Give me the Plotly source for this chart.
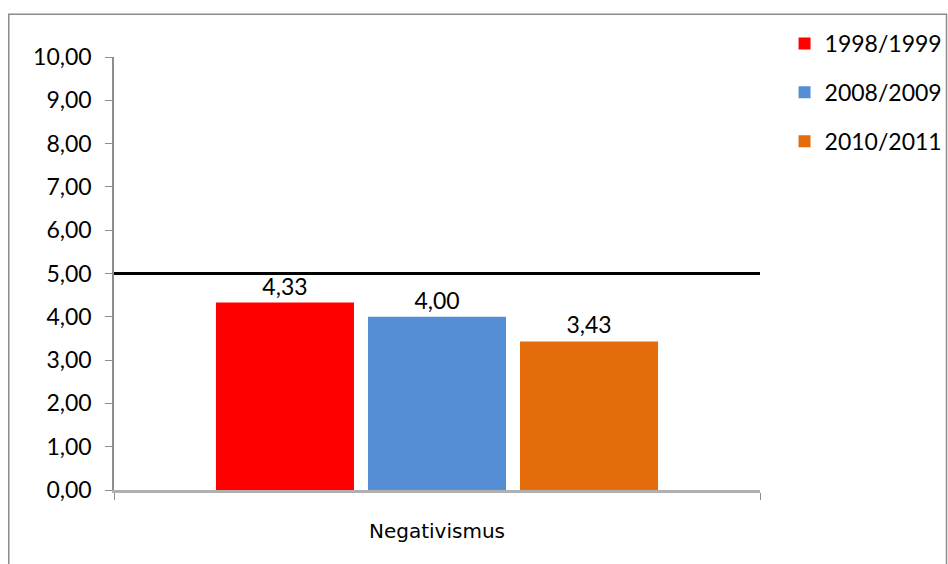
import plotly.graph_objects as go

categories = ["Negativismus"]
series_names = ["1998/1999", "2008/2009", "2010/2011"]
series_values = [[4.33], [4.00], [3.43]]
series_colors = ["#FF0000", "#558ED5", "#E46C0A"]
reference_value = 5.0
y_ticks = [0, 1, 2, 3, 4, 5, 6, 7, 8, 9, 10]

FONT = "Lato, 'Open Sans', sans-serif"

fig = go.Figure()
for i, (name, vals, col) in enumerate(zip(series_names, series_values, series_colors)):
    fig.add_trace(go.Bar(
        x=categories, y=vals, name=name, marker=dict(color=col, line=dict(width=0)),
        text=vals, texttemplate="%{y:.2f}", textposition="outside",
        textfont=dict(family=FONT, size=23, color="#000000"),
        cliponaxis=False, legendgroup=f"g{i}",
    ))

fig.add_shape(type="line", xref="paper", yref="y", x0=0, x1=1,
              y0=reference_value, y1=reference_value,
              line=dict(color="#000000", width=3))

# outer chart border
fig.add_shape(type="rect", xref="paper", yref="paper",
              x0=-0.1629, x1=1.2887, y0=-0.2, y1=1.099,
              line=dict(color="#8C8C8C", width=1.5), layer="above")

fig.update_layout(
    width=948, height=564,
    margin=dict(l=114, r=188, t=57, b=74, autoexpand=False),
    paper_bgcolor="white", plot_bgcolor="white",
    separators=",.",
    barmode="group", bargap=0.294, bargroupgap=0.092,
    showlegend=True,
    legend=dict(x=1.038, y=1.081, xanchor="left", yanchor="top",
                bgcolor="rgba(0,0,0,0)",
                font=dict(family=FONT, size=23, color="#000000"),
                tracegroupgap=16, traceorder="grouped", itemwidth=30),
    font=dict(family=FONT, color="#000000"),
)
fig.update_yaxes(range=[0, 10], tickvals=y_ticks, tickformat=".2f",
                 showgrid=False, zeroline=False, automargin=False,
                 showline=True, linecolor="#8C8C8C", linewidth=1.5,
                 ticks="outside", ticklen=7, tickcolor="#8C8C8C",
                 tickfont=dict(family=FONT, size=23, color="#000000"),
                 ticklabelstandoff=9)
fig.update_xaxes(showgrid=False, zeroline=False, automargin=False,
                 showline=True, linecolor="#B0B0B0", linewidth=2.5,
                 ticks="outside", tickson="boundaries", ticklen=7, tickcolor="#8C8C8C",
                 tickfont=dict(family="'DejaVu Sans', sans-serif", size=20, color="#000000"),
                 ticklabelstandoff=21)

fig.write_html(
    "out.html",
    config={"displayModeBar": False},
    post_script="document.body.style.margin='0';document.body.style.overflow='hidden';",
)
